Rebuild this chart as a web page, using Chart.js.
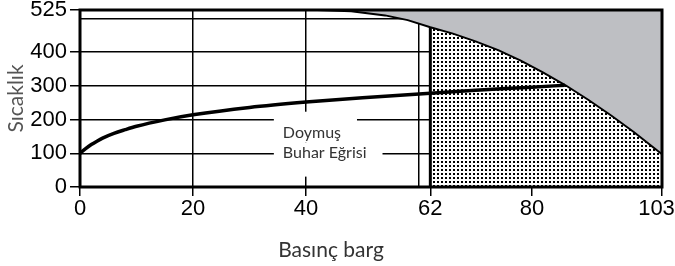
<!DOCTYPE html>
<html lang="tr">
<head>
  <meta charset="UTF-8">
  <title>Doymuş Buhar Eğrisi</title>
  <script src="https://cdn.jsdelivr.net/npm/chart.js"></script>
  <style>
    html, body { margin: 0; padding: 0; background: #fff; }
  </style>
</head>
<body>

  <canvas id="myChart" width="675" height="266"></canvas>

  <script>
    // doymuş buhar eğrisi: basınç (barg) -> sıcaklık
    const satPressure = [0, 1, 2, 3, 4, 6, 8, 10, 15, 20, 30, 40, 50, 60, 70, 80, 85.8];
    const satTemp = [100, 114, 126, 136, 145, 159, 170, 180, 199, 214, 236, 252, 265, 276, 287, 296, 302];

    // gri bölgenin alt sınırı
    const limitPressure = [42, 48, 54, 58, 62, 66, 70, 74, 78, 82, 86, 90, 94, 98, 103];
    const limitTemp = [525, 521, 509, 495, 474, 455, 432, 406, 375, 339, 301, 258, 212, 163, 97];

    const cutPressure = 62;

    const xTicks = [0, 20, 40, 60, 62, 80, 103];
    // son etiket kenara sığsın diye sonunda boşluk var
    const xLabels = ['0', '20', '40', '', '62', '80', '103\u2002'];
    const yTicks = [0, 100, 200, 300, 400, 500, 525];
    const yLabels = ['0', '100', '200', '300', '400', '', '525'];

    const curveLabel = ['Doymuş', 'Buhar Eğrisi'];

    const toPoints = (xs, ys) => xs.map((v, i) => ({ x: v, y: ys[i] }));

    const limitPoints = toPoints(limitPressure, limitTemp);
    const cutTop = limitTemp[limitPressure.indexOf(cutPressure)];
    const dottedPoints = [{ x: cutPressure, y: 0 }].concat(limitPoints.filter(p => p.x >= cutPressure));

    const ctx = document.getElementById('myChart').getContext('2d');

    // noktalı desen
    const tile = document.createElement('canvas');
    tile.width = 4;
    tile.height = 4;
    const tctx = tile.getContext('2d');
    tctx.fillStyle = '#fff';
    tctx.fillRect(0, 0, 4, 4);
    tctx.fillStyle = '#000';
    tctx.fillRect(1, 1, 2, 2);
    const dots = ctx.createPattern(tile, 'repeat');

    const labelPlugin = {
      id: 'curveLabel',
      afterDatasetsDraw(chart, args, opts) {
        const c = chart.ctx;
        const { x, y } = chart.scales;
        const left = x.getPixelForValue(opts.x);
        const centers = opts.y.map(v => y.getPixelForValue(v));
        c.save();
        c.font = '16px Lato';
        c.textBaseline = 'middle';
        curveLabel.forEach((t, i) => {
          const w = c.measureText(t).width;
          const top = i === 0 ? centers[i] - 21 : (centers[i - 1] + centers[i]) / 2;
          const bottom = i === curveLabel.length - 1 ? centers[i] + 24 : (centers[i] + centers[i + 1]) / 2;
          c.fillStyle = '#fff';
          c.fillRect(left - 9, top, w + 25, bottom - top);
        });
        c.fillStyle = '#333';
        curveLabel.forEach((t, i) => c.fillText(t, left, centers[i]));

        // çerçeve
        const a = chart.chartArea;
        c.strokeStyle = '#000';
        c.lineWidth = 3;
        c.strokeRect(a.left, a.top, a.right - a.left, a.bottom - a.top);
        c.restore();
      }
    };

    const tickFont = { family: 'Liberation Sans', size: 22 };
    const titleFont = { family: 'Lato', size: 21 };

    const config = {
      type: 'line',
      data: {
        datasets: [
          {
            data: toPoints(satPressure, satTemp),
            borderColor: '#000',
            borderWidth: 3.5,
            pointRadius: 0,
            cubicInterpolationMode: 'monotone',
            fill: false,
            order: 0
          },
          {
            data: [{ x: cutPressure, y: 0 }, { x: cutPressure, y: cutTop }],
            borderColor: '#000',
            borderWidth: 3,
            pointRadius: 0,
            fill: false,
            order: 1
          },
          {
            data: limitPoints,
            borderColor: '#000',
            borderWidth: 2,
            backgroundColor: '#bebfc3',
            pointRadius: 0,
            fill: 'end',
            order: 2
          },
          {
            data: dottedPoints,
            borderWidth: 0,
            backgroundColor: dots,
            pointRadius: 0,
            fill: 'origin',
            order: 3
          }
        ]
      },
      options: {
        responsive: false,
        animation: false,
        layout: { padding: { top: 10, right: 13, left: 0, bottom: 0 } },
        plugins: {
          legend: { display: false },
          tooltip: { enabled: false },
          title: {
            display: true,
            position: 'bottom',
            text: 'Basınç barg',
            color: '#333',
            font: { family: 'Lato', size: 21, weight: 'normal' },
            padding: { top: 0, bottom: 3 }
          },
          curveLabel: { x: 35.9, y: [161, 102] }
        },
        scales: {
          x: {
            type: 'linear',
            min: 0,
            max: 103,
            afterBuildTicks: axis => { axis.ticks = xTicks.map(v => ({ value: v })); },
            afterFit: axis => { axis.height = 50.8; axis.paddingLeft = 0; axis.paddingRight = 0; },
            ticks: {
              autoSkip: false,
              maxRotation: 0,
              padding: 0,
              color: '#000',
              font: tickFont,
              callback: (v, i) => xLabels[i]
            },
            grid: {
              color: '#000',
              lineWidth: 1.5,
              tickLength: 9,
              tickWidth: 1.5,
              tickColor: c => xLabels[c.index] === '' ? 'rgba(0,0,0,0)' : '#000'
            },
            border: { display: false }
          },
          y: {
            min: 0,
            max: 525,
            afterBuildTicks: axis => { axis.ticks = yTicks.map(v => ({ value: v })); },
            afterFit: axis => { axis.width = 80; axis.paddingTop = 0; axis.paddingBottom = 0; },
            ticks: {
              autoSkip: false,
              padding: 3,
              color: '#000',
              font: tickFont,
              callback: (v, i) => yLabels[i]
            },
            grid: {
              color: '#000',
              lineWidth: 1.5,
              tickLength: 10,
              tickWidth: 1.5,
              tickColor: c => yLabels[c.index] === '' ? 'rgba(0,0,0,0)' : '#000'
            },
            border: { display: false },
            title: {
              display: true,
              text: 'Sıcaklık',
              color: '#555',
              font: titleFont,
              padding: { top: 4, bottom: 0 }
            }
          }
        }
      },
      plugins: [labelPlugin]
    };

    const myChart = new Chart(ctx, config);
  </script>

</body>
</html>
